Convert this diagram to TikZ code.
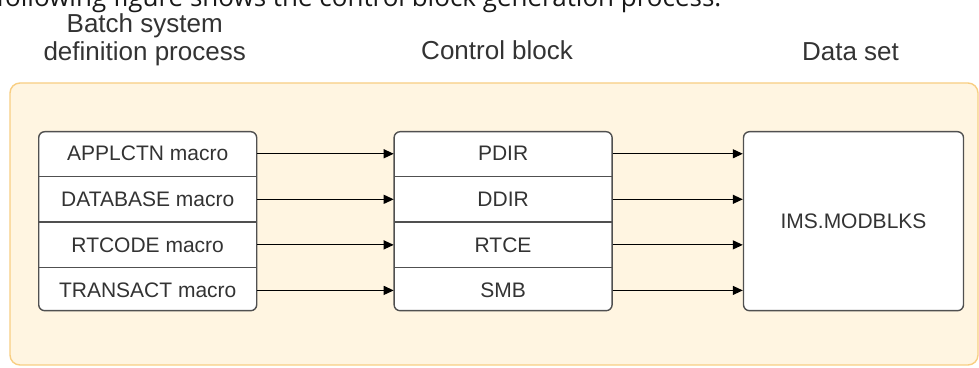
\documentclass[tikz,border=0pt]{standalone}
\usepackage{fontspec}
\setmainfont{Liberation Sans}
\newfontfamily\introfont{Open Sans}
\usetikzlibrary{positioning,calc,arrows.meta}

\definecolor{panelfill}{HTML}{FFF5E1}
\definecolor{panelline}{HTML}{F8CE82}
\definecolor{boxline}{HTML}{505050}
\definecolor{labeltext}{HTML}{333333}

\tikzset{
  panel/.style={draw=panelline, fill=panelfill, rounded corners=5pt, line width=0.7pt},
  stack/.style={draw=boxline, fill=white, rounded corners=3pt, line width=0.7pt,
    minimum width=109pt, minimum height=89.5pt, inner sep=0pt,
    text=labeltext, font=\fontsize{10.5pt}{12pt}\selectfont},
  slot/.style={minimum width=109pt, minimum height=22.375pt, inner sep=0pt,
    text=labeltext, font=\fontsize{10.5pt}{12pt}\selectfont},
  divider/.style={draw=boxline, line width=0.7pt},
  header/.style={font=\fontsize{13pt}{14pt}\selectfont, align=center, text=labeltext},
  feed/.style={-{Triangle[length=5pt,width=4.5pt]}, line width=0.6pt},
}

\begin{document}
\begin{tikzpicture}
    \useasboundingbox (0,0) rectangle (489.5pt,-184pt);
    \clip (0,0) rectangle (489.5pt,-184pt);

    % caption line cut off by the page edge
    \node[anchor=base west, inner sep=0pt, text=black!90,
      font=\introfont\fontsize{13pt}{14pt}\selectfont] (intro) at (-2pt,-3.3pt)
      {following figure shows the control block generation process.};

    \draw[panel] (5pt,-41.5pt) rectangle (489pt,-182.5pt);

    \node[stack, anchor=north west] (defbox) at (19pt,-65.5pt) {};
    \node[stack, right=68pt of defbox] (ctrlbox) {};
    \node[stack, right=65pt of ctrlbox, minimum width=110pt] (dsbox) {IMS.MODBLKS};

    \node[slot, below=0pt of defbox.north] (applctn) {APPLCTN macro};
    \node[slot, below=0pt of applctn] (database) {DATABASE macro};
    \node[slot, below=0pt of database] (rtcode) {RTCODE macro};
    \node[slot, below=0pt of rtcode] (transact) {TRANSACT macro};

    \node[slot, below=0pt of ctrlbox.north] (pdir) {PDIR};
    \node[slot, below=0pt of pdir] (ddir) {DDIR};
    \node[slot, below=0pt of ddir] (rtce) {RTCE};
    \node[slot, below=0pt of rtce] (smb) {SMB};

    \foreach \row in {applctn,database,rtcode,pdir,ddir,rtce}
      \draw[divider] (\row.south west) -- (\row.south east);

    % column headings
    \node[header, anchor=base] (defhead) at ($(defbox.north)+(-1.5pt,35pt)$) {Batch system\\definition process};
    \node[header, anchor=base] (ctrlhead) at ($(ctrlbox.north)+(-3pt,35.5pt)$) {Control block};
    \node[header, anchor=base] (dshead) at ($(dsbox.north)+(-1.5pt,35pt)$) {Data set};

    \foreach \src/\dst in {applctn/pdir,database/ddir,rtcode/rtce,transact/smb}
      \draw[feed] (\src) -- (\dst);
    \foreach \src in {pdir,ddir,rtce,smb}
      \draw[feed] (\src.east) -- (\src.east -| dsbox.west);
\end{tikzpicture}
\end{document}
